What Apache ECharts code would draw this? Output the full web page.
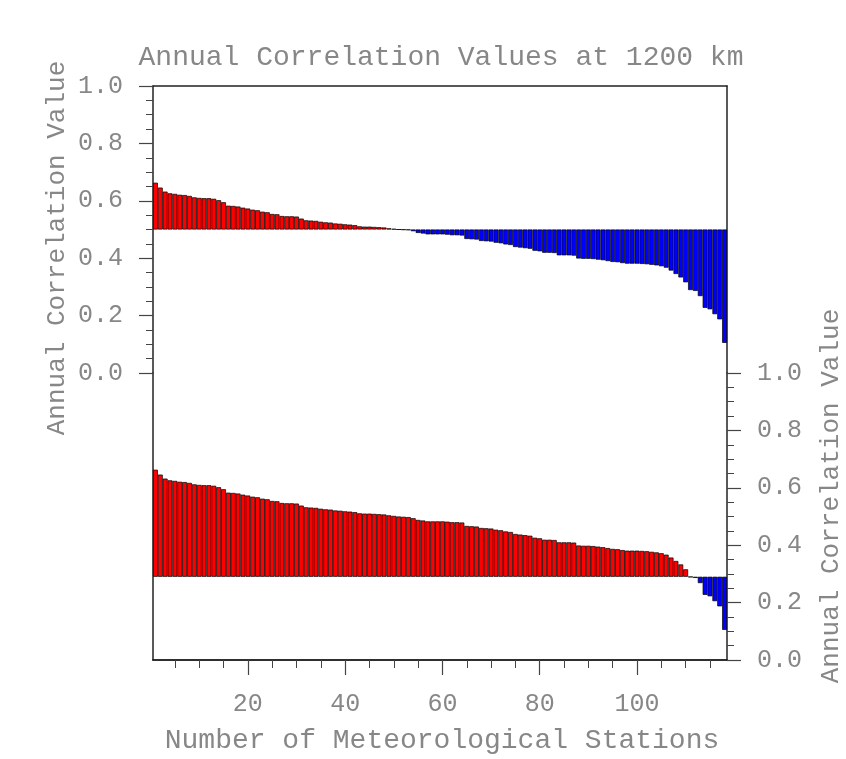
<!DOCTYPE html>
<html>
<head>
<meta charset="utf-8">
<script src="https://cdn.jsdelivr.net/npm/echarts@6/dist/echarts.min.js"></script>
<style>
  html, body { margin: 0; padding: 0; background: #fff; }
  #chart { width: 846px; height: 759px; }
</style>
</head>
<body>
<div id="chart"></div>
<script>
// annual correlation per station, sorted high to low
var corr = [
    0.663, 0.646, 0.632, 0.626, 0.624, 0.621, 0.620, 0.617, 0.612, 0.610,
    0.609, 0.609, 0.607, 0.602, 0.595, 0.583, 0.582, 0.580, 0.576, 0.573,
    0.569, 0.567, 0.562, 0.560, 0.554, 0.553, 0.547, 0.546, 0.546, 0.545,
    0.538, 0.532, 0.531, 0.530, 0.527, 0.525, 0.524, 0.521, 0.520, 0.518,
    0.517, 0.515, 0.511, 0.510, 0.510, 0.509, 0.508, 0.507, 0.504, 0.502,
    0.500, 0.499, 0.498, 0.494, 0.488, 0.486, 0.483, 0.483, 0.483, 0.483,
    0.482, 0.480, 0.480, 0.479, 0.467, 0.466, 0.465, 0.460, 0.459, 0.458,
    0.454, 0.452, 0.448, 0.446, 0.439, 0.437, 0.435, 0.433, 0.426, 0.424,
    0.419, 0.419, 0.418, 0.410, 0.410, 0.410, 0.409, 0.399, 0.398, 0.398,
    0.397, 0.395, 0.393, 0.390, 0.387, 0.386, 0.383, 0.381, 0.381, 0.381,
    0.380, 0.379, 0.377, 0.375, 0.372, 0.367, 0.357, 0.345, 0.333, 0.316,
    0.289, 0.286, 0.268, 0.227, 0.222, 0.205, 0.187, 0.105
];
var topBase = 0.5;      // reference level, upper panel
var bottomBase = 0.29;  // reference level, lower panel
var stations = [];
for (var i = 0; i < corr.length; i++) stations.push(String(i + 1));
var xTickLabels = ['20', '40', '60', '80', '100'];

var red = '#ff0000', blue = '#0000ff';
var txt = '#878787', axisCol = '#222';
var font = '"Liberation Mono", "DejaVu Sans Mono", monospace';

function baseOf(base) {
    return corr.map(function (v) { return Math.min(v, base); });
}
function diffOf(base) {
    return corr.map(function (v) {
        return { value: Math.abs(v - base), itemStyle: { color: v >= base ? red : blue } };
    });
}

var lineOnly = {
    axisLine: { show: true, onZero: false, lineStyle: { color: axisCol, width: 1.5 } },
    axisTick: { show: false }, axisLabel: { show: false }, splitLine: { show: false }
};

function valueAxis(grid, pos) {
    return {
        type: 'value', gridIndex: grid, position: pos, min: 0, max: 1, interval: 0.2,
        axisLine: { show: true, onZero: false, lineStyle: { color: axisCol, width: 1.5 } },
        axisTick: { show: true, length: 14, lineStyle: { color: '#444', width: 1.2 } },
        minorTick: { show: true, splitNumber: 4, length: 7, lineStyle: { color: '#444', width: 1 } },
        splitLine: { show: false }, minorSplitLine: { show: false },
        axisLabel: {
            margin: 30, color: txt, fontFamily: font, fontSize: 25,
            formatter: function (v) { return v.toFixed(1); }
        }
    };
}

var myChart = echarts.init(document.getElementById('chart'), null, { renderer: 'canvas' });
var option = {
    animation: false,
    backgroundColor: '#fff',
    grid: [
        { left: 153, top: 86, width: 574, height: 287 },
        { left: 153, top: 373, width: 574, height: 287 }
    ],
    xAxis: [
        Object.assign({ type: 'category', gridIndex: 0, position: 'top', data: stations }, lineOnly),
        {
            type: 'category', gridIndex: 1, position: 'bottom', data: stations,
            axisLine: { show: true, onZero: false, lineStyle: { color: axisCol, width: 1.5 } },
            axisTick: {
                show: true, alignWithLabel: true, length: 8, lineStyle: { color: '#444', width: 1 },
                interval: function (idx) { return (idx + 1) % 5 === 0; }
            },
            axisLabel: { show: false }, splitLine: { show: false }
        },
        {
            type: 'category', gridIndex: 1, position: 'bottom', data: stations,
            axisLine: { show: true, onZero: false, lineStyle: { color: axisCol, width: 1.5 } },
            axisTick: {
                show: true, alignWithLabel: true, length: 15, lineStyle: { color: '#444', width: 1.2 },
                interval: function (idx) { return xTickLabels.indexOf(stations[idx]) >= 0; }
            },
            axisLabel: {
                margin: 32, color: txt, fontFamily: font, fontSize: 25,
                interval: function (idx) { return xTickLabels.indexOf(stations[idx]) >= 0; }
            },
            splitLine: { show: false }
        }
    ],
    yAxis: [
        valueAxis(0, 'left'),
        Object.assign({ type: 'value', gridIndex: 0, position: 'right', min: 0, max: 1 }, lineOnly),
        Object.assign({ type: 'value', gridIndex: 1, position: 'left', min: 0, max: 1 }, lineOnly),
        valueAxis(1, 'right')
    ],
    series: [
        {
            type: 'bar', xAxisIndex: 0, yAxisIndex: 0, stack: 'top', silent: true,
            barCategoryGap: '0%', data: baseOf(topBase),
            itemStyle: { color: 'rgba(0,0,0,0)', borderWidth: 0 }
        },
        {
            type: 'bar', xAxisIndex: 0, yAxisIndex: 0, stack: 'top',
            barCategoryGap: '0%', data: diffOf(topBase),
            itemStyle: { borderColor: '#000', borderWidth: 0.7 }
        },
        {
            type: 'bar', xAxisIndex: 1, yAxisIndex: 3, stack: 'bot', silent: true,
            barCategoryGap: '0%', data: baseOf(bottomBase),
            itemStyle: { color: 'rgba(0,0,0,0)', borderWidth: 0 }
        },
        {
            type: 'bar', xAxisIndex: 1, yAxisIndex: 3, stack: 'bot',
            barCategoryGap: '0%', data: diffOf(bottomBase),
            itemStyle: { borderColor: '#000', borderWidth: 0.7 }
        }
    ],
    graphic: [
        {
            type: 'text', x: 441, y: 58,
            style: {
                text: 'Annual Correlation Values at 1200 km', fill: txt,
                font: '28px ' + font, align: 'center', verticalAlign: 'middle'
            }
        },
        {
            type: 'text', x: 57, y: 248, rotation: Math.PI / 2,
            style: {
                text: 'Annual Correlation Value', fill: txt,
                font: '26px ' + font, align: 'center', verticalAlign: 'middle'
            }
        },
        {
            type: 'text', x: 831, y: 496, rotation: Math.PI / 2,
            style: {
                text: 'Annual Correlation Value', fill: txt,
                font: '26px ' + font, align: 'center', verticalAlign: 'middle'
            }
        },
        {
            type: 'text', x: 442, y: 741,
            style: {
                text: 'Number of Meteorological Stations', fill: txt,
                font: '28px ' + font, align: 'center', verticalAlign: 'middle'
            }
        }
    ]
};
myChart.setOption(option);
</script>
</body>
</html>
